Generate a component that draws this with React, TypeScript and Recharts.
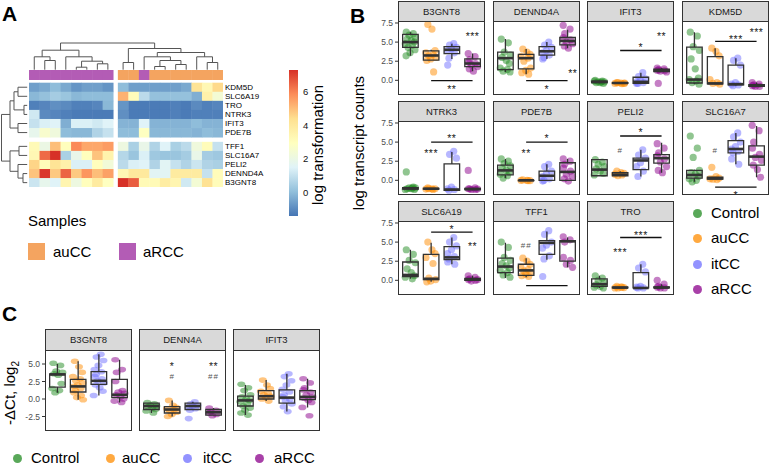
import React from "react";
import { ScatterChart, Scatter, XAxis, YAxis, BarChart, Bar } from "recharts";

const FONT = '"Liberation Sans", Arial, Helvetica, sans-serif';
const INK = "#333333";

// ---------- A: heatmap ----------
const HM_GENES = ["KDM5D", "SLC6A19", "TRO", "NTRK3", "IFIT3", "PDE7B", "TFF1", "SLC16A7", "PELI2", "DENND4A", "B3GNT8"];
const HM_SAMPLES = [
  "aRCC", "aRCC", "aRCC", "aRCC", "aRCC", "aRCC", "aRCC", "aRCC",
  "auCC", "auCC", "aRCC", "auCC", "auCC", "auCC", "auCC", "auCC", "auCC", "auCC",
];
const KDM5D_LOG = [-0.6, -0.4, 0.0, -0.4, -0.8, -0.6, -0.6, -0.8, 0.0, -0.6, -0.6, -0.6, -0.6, -0.6, -0.4, 4.2, 3.3, 4.5];
const SLC6A19_LOG = [-0.1, 0.1, 0.4, 0.2, -0.1, 0.0, 0.0, 0.0, 5.2, 3.1, 0.8, 0.1, 0.1, 0.1, 0.1, -0.3, 3.6, 2.4];
const TRO_LOG = [-1.2, -1.1, -0.9, -1.0, -1.2, -1.2, -1.1, -0.1, -0.8, -1.3, -1.3, -1.3, -1.3, -1.2, -1.3, -1.0, -1.2, -1.1];
const NTRK3_LOG = [1.2, -1.0, -1.1, -1.2, -1.3, -1.3, -1.3, -1.3, -0.9, -1.3, -1.3, -1.3, -1.3, -1.2, -1.3, -1.2, -1.2, -1.2];
const IFIT3_LOG = [1.0, 1.4, 1.5, -0.3, 1.4, 1.4, 1.2, 1.5, -0.2, -0.2, 1.5, -0.2, -0.2, -0.2, -0.2, 0.0, -0.2, -0.2];
const PDE7B_LOG = [1.8, 2.6, 2.2, 0.0, -0.1, -0.1, 0.6, 1.0, 0.0, 0.0, 2.9, -0.1, -0.1, -0.1, -0.1, -0.2, 0.0, -0.1];
const TFF1_LOG = [3.2, 2.0, 5.0, 3.0, 5.9, 5.4, 5.4, 5.6, 2.1, 0.5, 1.9, 0.6, 1.5, 0.5, 0.8, 2.2, 3.1, 1.0];
const SLC16A7_LOG = [3.3, 6.4, 7.3, 0.5, 1.9, 3.0, 4.9, 3.5, 0.7, 0.2, 1.4, 0.3, 0.2, 0.2, 0.4, 1.9, 0.4, 0.3];
const PELI2_LOG = [4.6, 3.1, 4.2, 3.6, 1.4, 1.4, 3.0, 2.3, 0.8, 1.4, 1.5, 0.6, 1.6, 1.0, 0.6, 1.1, 0.6, 0.5];
const DENND4A_LOG = [4.9, 7.2, 4.8, 6.5, 4.8, 5.7, 5.0, 5.5, 3.3, 4.0, 4.0, 1.6, 1.6, 3.9, 3.9, 3.9, 1.0, 3.1];
const B3GNT8_LOG = [1.1, 1.8, 1.5, 3.4, 2.1, 3.0, 3.9, 2.9, 7.3, 6.6, 3.2, 3.2, 3.8, 3.4, 1.2, 2.4, 4.3, 3.1];
const HM_ROWS = [KDM5D_LOG, SLC6A19_LOG, TRO_LOG, NTRK3_LOG, IFIT3_LOG, PDE7B_LOG, TFF1_LOG, SLC16A7_LOG, PELI2_LOG, DENND4A_LOG, B3GNT8_LOG];

// dendrograms: leaf index or [left, right, merge height]
type Tree = number | [Tree, Tree, number];
const COL_TREE: Tree = [
  [[0, [1, 2, 10], 13.7], [3, [[4, 5, 3.3], [6, 7, 6.7], 9.3], 13.7], 20.3],
  [[8, 9, 8], [[10, [[11, 12, 4], [13, 14, 6], 10], 13.7], [15, [16, 17, 8], 13.7], 18], 22],
  27.5,
];
const ROW_TREE: Tree = [
  [[[0, 1, 10], [2, 3, 4], 14], [4, 5, 10], 18],
  [[6, 7, 9], [8, [9, 10, 5], 10], 18],
  26.5,
];

const HM_MIN = -1.42;
const HM_MAX = 7.31;
const HM_STOPS = ["#4575B4", "#91BFDB", "#E0F3F8", "#FFFFBF", "#FEE090", "#FC8D59", "#D73027"];
const HM_TICKS = [0, 2, 4, 6];
const SAMPLE_COLORS: Record<string, string> = { auCC: "#F4A460", aRCC: "#B35CB5" };

// ---------- B / C: boxplots ----------
const GROUPS = ["Control", "auCC", "itCC", "aRCC"];
const GROUP_COLORS = ["#228B22", "#FF8C00", "#6F6FFF", "#8B008B"];

const B3GNT8_PTS = [
  [6.3, 6.1, 5.9, 5.6, 5.4, 5.2, 5.0, 4.8, 4.6, 4.3, 4.0, 3.6, 3.2],
  [7.3, 6.7, 3.9, 3.6, 3.4, 3.2, 3.0, 2.8, 2.6, 1.1],
  [4.8, 4.6, 4.3, 4.1, 3.9, 3.6, 2.9, 2.0],
  [3.5, 3.1, 2.7, 2.4, 2.2, 2.0, 1.8, 1.5, 1.2],
];
const B3GNT8_BOX = [[3.2, 4.3, 5.0, 6.0, 6.3], [2.6, 2.65, 3.25, 3.85, 4.0], [2.8, 3.5, 4.0, 4.4, 4.8], [1.2, 1.8, 2.2, 2.8, 3.5]];
const B3GNT8_LINES = [[2, 4, -0.05]];
const B3GNT8_MARKS: [number, number, string][] = [[4, 6.0, "***"], [3, -0.85, "**"]];

const DENND4A_PTS = [
  [5.4, 4.9, 3.7, 3.3, 3.0, 2.6, 2.2, 1.6, 1.4, 1.2, 1.1],
  [4.1, 3.7, 3.4, 3.1, 2.9, 2.5, 1.6, 1.3, 1.0, 0.8],
  [5.0, 4.6, 4.3, 3.9, 3.6, 3.3, 3.0, 2.8],
  [7.2, 6.7, 6.1, 5.6, 5.3, 5.0, 4.8, 4.5, 4.2],
];
const DENND4A_BOX = [[1.1, 1.4, 2.9, 3.7, 5.4], [0.8, 1.5, 2.9, 3.4, 4.1], [2.8, 3.3, 3.8, 4.4, 5.0], [4.2, 4.65, 5.15, 5.6, 6.6]];
const DENND4A_LINES = [[2, 4, -0.05]];
const DENND4A_MARKS: [number, number, string][] = [[3, -0.85, "*"], [4.25, 1.2, "**"]];

const IFIT3_PTS = [
  [0.0, -0.1, -0.2, -0.2, -0.3, -0.3, -0.4, -0.1, -0.2],
  [-0.3, -0.35, -0.4, -0.4, -0.45, -0.3, -0.35],
  [1.0, 0.5, 0.2, 0.0, -0.2, -0.3, -0.4, -0.4],
  [1.6, 1.5, 1.4, 1.3, 1.25, 1.2, 1.1, -0.4],
];
const IFIT3_BOX = [[-0.4, -0.3, -0.2, -0.1, 0.0], [-0.45, -0.4, -0.35, -0.3, -0.3], [-0.45, -0.4, -0.2, 0.4, 1.0], [1.1, 1.15, 1.3, 1.45, 1.6]];
const IFIT3_LINES = [[2, 4, 3.9]];
const IFIT3_MARKS: [number, number, string][] = [[3, 4.6, "*"], [4, 6.0, "**"]];

const KDM5D_PTS = [
  [6.3, 5.8, 4.4, 3.9, 2.8, 1.5, 0.3, 0.1, -0.1, -0.3, -0.5],
  [4.2, 3.8, 3.2, 0.1, -0.3, -0.4, -0.5],
  [2.9, 2.6, 2.0, -0.3, -0.5, -0.6, -0.7],
  [-0.3, -0.5, -0.6, -0.7, -0.8, -0.8],
];
const KDM5D_BOX = [[-0.5, -0.35, 0.1, 4.35, 6.3], [-0.5, -0.45, -0.4, 3.1, 4.2], [-0.7, -0.6, -0.5, 2.0, 2.9], [-0.8, -0.8, -0.7, -0.55, -0.3]];
const KDM5D_LINES = [[2, 4, 5.1]];
const KDM5D_MARKS: [number, number, string][] = [[3, 5.7, "***"], [4, 6.6, "***"]];

const NTRK3_PTS = [
  [1.1, -0.9, -1.0, -1.0, -1.1, -1.1, -1.2, -1.2, -1.0],
  [-1.0, -1.1, -1.1, -1.15, -1.2, -1.1],
  [3.8, 3.4, 2.9, -0.9, -1.1, -1.2, -1.3],
  [1.3, -1.0, -1.1, -1.1, -1.2, -1.2, -1.15],
];
const NTRK3_BOX = [[-1.2, -1.15, -1.05, -0.95, -0.9], [-1.2, -1.15, -1.1, -1.05, -1.0], [-1.3, -1.3, -1.2, 2.15, 3.7], [-1.2, -1.2, -1.15, -1.05, -1.0]];
const NTRK3_LINES = [[2, 4, 5.0]];
const NTRK3_MARKS: [number, number, string][] = [[3, 5.8, "**"], [2, 3.75, "***"]];

const PDE7B_PTS = [
  [2.8, 2.5, 2.2, 1.9, 1.6, 1.3, 1.1, 0.8, 0.6, 0.3],
  [0.05, 0.0, -0.05, 0.0, -0.05],
  [2.1, 1.8, 1.2, 0.9, 0.5, 0.2, 0.0, -0.1],
  [2.8, 2.5, 2.1, 1.6, 1.2, 0.8, 0.5, 0.2, -0.1],
];
const PDE7B_BOX = [[0.3, 0.7, 1.3, 2.0, 2.8], [-0.05, -0.05, 0.0, 0.0, 0.05], [-0.1, 0.0, 0.6, 1.2, 2.1], [-0.1, 0.0, 1.1, 2.3, 2.8]];
const PDE7B_LINES = [[2, 4, 5.0]];
const PDE7B_MARKS: [number, number, string][] = [[3, 5.8, "*"], [2, 3.75, "**"]];

const PELI2_PTS = [
  [2.7, 2.4, 2.1, 1.8, 1.5, 1.2, 0.9, 0.7],
  [1.2, 1.0, 0.9, 0.8, 0.7, 0.6],
  [4.0, 3.3, 2.9, 2.3, 1.8, 1.2, 0.5],
  [4.8, 4.2, 3.6, 3.2, 2.8, 2.4, 1.8, 1.3, 1.0],
];
const PELI2_BOX = [[0.6, 0.6, 1.4, 2.7, 2.8], [0.6, 0.6, 0.75, 1.0, 1.2], [0.5, 1.4, 2.6, 2.9, 4.0], [1.0, 2.25, 2.9, 3.35, 4.9]];
const PELI2_LINES = [[2, 4, 5.8]];
const PELI2_MARKS: [number, number, string][] = [[3, 6.6, "*"], [2, 3.9, "#"]];

const SLC16A7_PTS = [
  [5.8, 4.2, 3.0, 1.3, 1.0, 0.8, 0.5, 0.2, 0.0, -0.2],
  [1.7, 0.5, 0.3, 0.2, 0.1, 0.15],
  [6.2, 5.7, 5.0, 4.4, 4.1, 3.8, 3.6, 2.8, 2.1],
  [7.2, 6.5, 5.0, 4.2, 3.4, 3.0, 2.6, 2.0, 1.4, 0.4],
];
const SLC16A7_BOX = [[-0.2, 0.3, 0.7, 1.3, 1.4], [0.1, 0.15, 0.25, 0.4, 0.5], [2.1, 3.6, 4.1, 5.2, 6.2], [0.4, 2.0, 3.1, 4.5, 7.1]];
const SLC16A7_LINES = [[2, 4, -0.9]];
const SLC16A7_MARKS: [number, number, string][] = [[3, -1.65, "*"], [2, 3.9, "#"]];

const SLC6A19_PTS = [
  [4.0, 3.4, 2.6, 2.3, 1.5, 1.0, 0.6, 0.4, 0.2],
  [5.0, 4.0, 3.5, 3.0, 2.2, 0.3, 0.1, -0.1, -0.2],
  [5.6, 5.0, 4.5, 4.0, 3.5, 3.1, 2.8, 2.4, 2.1],
  [0.6, 0.4, 0.2, 0.1, 0.0, -0.1, 0.1],
];
const SLC6A19_BOX = [[0.2, 0.5, 0.7, 2.4, 4.0], [-0.2, 0.1, 0.2, 3.4, 4.9], [2.1, 2.7, 3.0, 4.4, 5.6], [-0.1, 0.0, 0.1, 0.25, 0.6]];
const SLC6A19_LINES = [[2, 4, 6.3]];
const SLC6A19_MARKS: [number, number, string][] = [[3, 7.0, "*"], [4, 4.7, "**"]];

const TFF1_PTS = [
  [5.0, 4.3, 3.0, 2.6, 2.2, 1.9, 1.6, 1.3, 1.0, 0.7, 0.4],
  [2.9, 2.5, 2.1, 1.7, 1.4, 1.2, 1.0, 0.8, 0.6, 0.5],
  [6.5, 6.0, 5.0, 4.6, 4.2, 3.2, 2.8, 0.5],
  [5.7, 5.3, 5.0, 3.0, 2.6, 2.1, 1.7],
];
const TFF1_BOX = [[0.3, 1.0, 1.8, 2.9, 4.9], [0.4, 0.65, 1.3, 2.1, 2.9], [2.7, 3.4, 4.9, 5.2, 6.4], [1.7, 2.5, 5.1, 5.2, 5.6]];
const TFF1_LINES = [[2, 4, -0.7]];
const TFF1_MARKS: [number, number, string][] = [[2, 4.65, "##"]];

const TRO_PTS = [
  [0.6, 0.3, 0.0, -0.3, -0.6, -0.8, -1.0, -0.9],
  [-0.8, -0.9, -0.95, -1.0, -0.9, -1.0],
  [2.1, 1.6, 1.1, -0.8, -0.9, -1.0, -1.0],
  [0.0, -0.5, -0.8, -0.9, -1.0, -1.0],
];
const TRO_BOX = [[-1.0, -0.8, -0.5, 0.2, 0.6], [-1.0, -1.0, -0.95, -0.9, -0.8], [-1.0, -1.0, -1.0, 1.0, 2.1], [-1.0, -1.0, -0.95, -0.85, -0.5]];
const TRO_LINES = [[2, 4, 5.6]];
const TRO_MARKS: [number, number, string][] = [[3, 6.2, "***"], [2, 3.9, "***"]];

const B_TICKS = [0, 2.5, 5, 7.5];
const B_DOMAIN = [-1.92, 7.76];

// C: qPCR
const C_B3GNT8_PTS = [
  [5.1, 4.8, 4.0, 3.8, 3.6, 3.4, 2.2, 1.5, 1.2, 0.9],
  [5.4, 4.6, 3.8, 3.2, 2.9, 2.6, 2.3, 2.0, 1.8, 1.5, 1.2, 0.9, 0.5, 0.2, -0.1],
  [6.4, 6.0, 5.5, 4.8, 4.2, 3.9, 3.5, 3.2, 2.9, 2.6, 2.3, 2.0, 1.6, 1.1, 0.5],
  [5.6, 4.2, 3.8, 2.5, 1.2, 1.0, 0.8, 0.6, 0.3, 0.0, -0.3, -0.5],
];
const C_B3GNT8_BOX = [[0.9, 1.7, 3.5, 3.6, 5.0], [-0.1, 1.0, 1.8, 2.8, 5.4], [0.5, 2.1, 2.6, 3.9, 6.4], [-0.5, 0.2, 0.6, 2.8, 5.6]];

const C_DENN4A_PTS = [
  [-0.5, -0.7, -0.9, -1.0, -1.1, -1.3, -1.5, -1.7, -2.0],
  [-0.2, -0.9, -1.2, -1.4, -1.5, -1.7, -1.9, -2.2, -2.5],
  [-0.4, -0.7, -0.9, -1.0, -1.2, -1.4, -1.6, -2.8],
  [-1.3, -1.6, -1.8, -2.0, -2.2, -2.4],
];
const C_DENN4A_BOX = [[-2.0, -1.5, -1.0, -0.6, -0.5], [-2.5, -2.0, -1.5, -1.1, -0.2], [-1.6, -1.5, -1.0, -0.6, -0.4], [-2.4, -2.3, -1.9, -1.5, -1.3]];
const C_DENN4A_MARKS: [number, number, string][] = [[2, 5.0, "*"], [2, 3.3, "#"], [4, 5.0, "**"], [4, 3.3, "##"]];

const C_IFIT3_PTS = [
  [2.1, 1.6, 1.2, 0.6, 0.3, 0.0, -0.2, -0.4, -0.7, -1.0, -1.3, -1.6, -2.0, -2.3],
  [2.7, 2.0, 1.5, 1.1, 0.8, 0.6, 0.4, 0.2, 0.0, -0.3],
  [3.6, 3.2, 2.6, 2.0, 1.4, 1.0, 0.6, 0.3, 0.0, -0.3, -0.7, -1.1, -1.8],
  [2.9, 2.3, 1.6, 1.3, 1.0, 0.6, 0.3, 0.1, -0.2, -0.5, -1.2, -2.4],
];
const C_IFIT3_BOX = [[-2.3, -1.0, -0.2, 0.4, 2.0], [-0.3, 0.0, 0.4, 1.2, 2.7], [-1.8, -0.6, 0.2, 1.3, 3.6], [-1.2, -0.1, 0.3, 1.2, 2.9]];

const C_TICKS = [-2.5, 0, 2.5, 5];
const C_DOMAIN = [-4.57, 7.0];

// jitter offsets (x units) cycled over the points of a group
const JITTER = [-0.2, 0.14, -0.06, 0.24, -0.16, 0.04, 0.19, -0.25, 0.09, -0.11, 0.22, -0.02, -0.21, 0.12, -0.14];
const BOX_HALF = 0.375;

type Panel = {
  gene: string;
  pts: number[][];
  box: number[][];
  lines: number[][];
  marks: [number, number, string][];
};

const B_PANELS: Panel[] = [
  { gene: "B3GNT8", pts: B3GNT8_PTS, box: B3GNT8_BOX, lines: B3GNT8_LINES, marks: B3GNT8_MARKS },
  { gene: "DENND4A", pts: DENND4A_PTS, box: DENND4A_BOX, lines: DENND4A_LINES, marks: DENND4A_MARKS },
  { gene: "IFIT3", pts: IFIT3_PTS, box: IFIT3_BOX, lines: IFIT3_LINES, marks: IFIT3_MARKS },
  { gene: "KDM5D", pts: KDM5D_PTS, box: KDM5D_BOX, lines: KDM5D_LINES, marks: KDM5D_MARKS },
  { gene: "NTRK3", pts: NTRK3_PTS, box: NTRK3_BOX, lines: NTRK3_LINES, marks: NTRK3_MARKS },
  { gene: "PDE7B", pts: PDE7B_PTS, box: PDE7B_BOX, lines: PDE7B_LINES, marks: PDE7B_MARKS },
  { gene: "PELI2", pts: PELI2_PTS, box: PELI2_BOX, lines: PELI2_LINES, marks: PELI2_MARKS },
  { gene: "SLC16A7", pts: SLC16A7_PTS, box: SLC16A7_BOX, lines: SLC16A7_LINES, marks: SLC16A7_MARKS },
  { gene: "SLC6A19", pts: SLC6A19_PTS, box: SLC6A19_BOX, lines: SLC6A19_LINES, marks: SLC6A19_MARKS },
  { gene: "TFF1", pts: TFF1_PTS, box: TFF1_BOX, lines: TFF1_LINES, marks: TFF1_MARKS },
  { gene: "TRO", pts: TRO_PTS, box: TRO_BOX, lines: TRO_LINES, marks: TRO_MARKS },
];

const C_PANELS: Panel[] = [
  { gene: "B3GNT8", pts: C_B3GNT8_PTS, box: C_B3GNT8_BOX, lines: [], marks: [] },
  { gene: "DENN4A", pts: C_DENN4A_PTS, box: C_DENN4A_BOX, lines: [], marks: C_DENN4A_MARKS },
  { gene: "IFIT3", pts: C_IFIT3_PTS, box: C_IFIT3_BOX, lines: [], marks: [] },
];

// ---------- layout ----------
const HM_LEFT = 28.7;
const HM_TOP = 70.3;
const HM_W = 194;
const HM_XMAX = 18.45;
const CW = HM_W / HM_XMAX;
const CH = 9.07;
const HM_YMAX = 12.92;
const HM_H = HM_YMAX * CH;

const B_COLS = [398, 493, 587, 682];
const B_ROWS = [1, 101, 201];
const C_COLS = [45, 139, 233];
const PANEL_W = 87;
const PAD = 8;
const NO_MARGIN = { top: 0, right: 0, bottom: 0, left: 0 };
const noShape = () => <g />;

const colCenter = (c: number) => (c < 8 ? c + 0.5 : c + 0.95);
const rowCenter = (r: number) => (r < 6 ? 1.9 + r : 8.42 + (r - 6));

function hexToRgb(h: string) {
  return [1, 3, 5].map((i) => parseInt(h.slice(i, i + 2), 16));
}
function heatColor(v: number) {
  const t = Math.max(0, Math.min(1, (v - HM_MIN) / (HM_MAX - HM_MIN))) * 6;
  const k = Math.min(5, Math.floor(t));
  const f = t - k;
  const a = hexToRgb(HM_STOPS[k]);
  const b = hexToRgb(HM_STOPS[k + 1]);
  const c = a.map((x, i) => Math.round(x + (b[i] - x) * f));
  return `rgb(${c[0]},${c[1]},${c[2]})`;
}

type Pt = { x: number; y: number };
// returns [leafPosition, height] polylines for every merge
function walkTree(t: Tree, pos: (i: number) => number, out: [number, number][][]): { p: number; h: number } {
  if (typeof t === "number") return { p: pos(t), h: 0.8 };
  const l = walkTree(t[0], pos, out);
  const r = walkTree(t[1], pos, out);
  out.push([[l.p, l.h], [l.p, t[2]], [r.p, t[2]], [r.p, r.h]]);
  return { p: (l.p + r.p) / 2, h: t[2] };
}

function Heatmap() {
  const cells = HM_ROWS.flatMap((vals, r) => vals.map((v, c) => ({ x: colCenter(c), y: rowCenter(r), v })));
  const annot = HM_SAMPLES.map((s, c) => ({ x: colCenter(c), y: 0.55, s }));
  const colSegs: [number, number][][] = [];
  walkTree(COL_TREE, colCenter, colSegs);
  const rowSegs: [number, number][][] = [];
  walkTree(ROW_TREE, rowCenter, rowSegs);

  return (
    <>
      <div style={{ position: "absolute", left: HM_LEFT, top: HM_TOP }}>
        <ScatterChart width={HM_W} height={HM_H} margin={NO_MARGIN}>
          <XAxis type="number" dataKey="x" domain={[0, HM_XMAX]} hide allowDataOverflow />
          <YAxis type="number" dataKey="y" domain={[0, HM_YMAX]} reversed hide allowDataOverflow />
          <Scatter
            data={cells}
            isAnimationActive={false}
            shape={(p: any) => (
              <rect x={p.cx - CW / 2} y={p.cy - CH / 2} width={CW + 0.4} height={CH + 0.4} fill={heatColor(p.payload.v)} />
            )}
          />
          <Scatter
            data={annot}
            isAnimationActive={false}
            shape={(p: any) => (
              <rect x={p.cx - CW / 2} y={p.cy - 5} width={CW + 0.4} height={10} fill={SAMPLE_COLORS[p.payload.s]} />
            )}
          />
        </ScatterChart>
      </div>
      <div style={{ position: "absolute", left: HM_LEFT, top: 42 }}>
        <ScatterChart width={HM_W} height={28.5} margin={NO_MARGIN}>
          <XAxis type="number" dataKey="x" domain={[0, HM_XMAX]} hide allowDataOverflow />
          <YAxis type="number" dataKey="y" domain={[0, 28.5]} hide allowDataOverflow />
          {colSegs.map((seg, i) => (
            <Scatter
              key={i}
              data={seg.map(([p, h]) => ({ x: p, y: h }))}
              line={{ stroke: "#555", strokeWidth: 1 }}
              lineType="joint"
              shape={noShape}
              isAnimationActive={false}
            />
          ))}
        </ScatterChart>
      </div>
      <div style={{ position: "absolute", left: 0, top: HM_TOP }}>
        <ScatterChart width={28} height={HM_H} margin={NO_MARGIN}>
          <XAxis type="number" dataKey="x" domain={[0, 28]} reversed hide allowDataOverflow />
          <YAxis type="number" dataKey="y" domain={[0, HM_YMAX]} reversed hide allowDataOverflow />
          {rowSegs.map((seg, i) => (
            <Scatter
              key={i}
              data={seg.map(([p, h]) => ({ x: h, y: p }))}
              line={{ stroke: "#555", strokeWidth: 1 }}
              lineType="joint"
              shape={noShape}
              isAnimationActive={false}
            />
          ))}
        </ScatterChart>
      </div>
      {HM_GENES.map((g, r) => (
        <div
          key={g}
          style={{ position: "absolute", left: 225, top: HM_TOP + rowCenter(r) * CH - 5, fontSize: 8, lineHeight: "10px" }}
        >
          {g}
        </div>
      ))}
      {/* colour key */}
      <div style={{ position: "absolute", left: 288, top: 70 }}>
        <BarChart width={30} height={146} data={[{ k: "key", r: [HM_MIN, HM_MAX] }]} margin={NO_MARGIN} barCategoryGap={0}>
          <defs>
            <linearGradient id="hmGrad" x1="0" y1="1" x2="0" y2="0">
              {HM_STOPS.map((c, i) => (
                <stop key={c} offset={`${(i / 6) * 100}%`} stopColor={c} />
              ))}
            </linearGradient>
          </defs>
          <XAxis dataKey="k" hide />
          <YAxis
            orientation="right"
            type="number"
            domain={[HM_MIN, HM_MAX]}
            ticks={HM_TICKS}
            width={20}
            axisLine={false}
            tickLine={false}
            tickSize={4}
            tickMargin={1}
            tick={{ fontSize: 9.5, fill: "#111" }}
            allowDataOverflow
          />
          <Bar dataKey="r" fill="url(#hmGrad)" barSize={10} isAnimationActive={false} />
        </BarChart>
      </div>
      <div
        style={{
          position: "absolute",
          left: 318 - 70,
          top: 145 - 9,
          width: 140,
          height: 18,
          lineHeight: "18px",
          fontSize: 15,
          textAlign: "center",
          transform: "rotate(-90deg)",
          whiteSpace: "nowrap",
        }}
      >
        log transformation
      </div>
      <div style={{ position: "absolute", left: 28, top: 212, fontSize: 15, lineHeight: "18px" }}>Samples</div>
      {["auCC", "aRCC"].map((s, i) => (
        <React.Fragment key={s}>
          <div
            style={{ position: "absolute", left: 28 + i * 91, top: 243, width: 17, height: 17, background: SAMPLE_COLORS[s] }}
          />
          <div style={{ position: "absolute", left: 53 + i * 90, top: 243, fontSize: 15, lineHeight: "18px" }}>{s}</div>
        </React.Fragment>
      ))}
    </>
  );
}

function boxPath(c: number, s: number[]): Pt[] {
  const [mn, q1, , q3, mx] = s;
  return [
    { x: c, y: mn }, { x: c, y: q1 }, { x: c - BOX_HALF, y: q1 }, { x: c - BOX_HALF, y: q3 },
    { x: c, y: q3 }, { x: c, y: mx }, { x: c, y: q3 }, { x: c + BOX_HALF, y: q3 },
    { x: c + BOX_HALF, y: q1 }, { x: c, y: q1 },
  ];
}

function Facet(props: {
  panel: Panel;
  left: number;
  stripTop: number;
  stripH: number;
  plotH: number;
  domain: number[];
  ticks: number[];
  axis: boolean;
  oval: boolean;
}) {
  const { panel, left, stripTop, stripH, plotH, domain, ticks, axis, oval } = props;
  const axisW = axis ? 28 : 0;
  const plotTop = stripTop + stripH - 1;
  return (
    <>
      <div
        style={{
          position: "absolute",
          left,
          top: stripTop,
          width: PANEL_W,
          height: stripH,
          boxSizing: "border-box",
          border: `1px solid ${INK}`,
          background: "#D9D9D9",
          color: "#1A1A1A",
          fontSize: 9.5,
          lineHeight: `${stripH - 2}px`,
          textAlign: "center",
        }}
      >
        {panel.gene}
      </div>
      <div style={{ position: "absolute", left: left - axisW, top: plotTop - PAD }}>
        <ScatterChart
          width={PANEL_W + axisW}
          height={plotH + 2 * PAD}
          margin={{ top: PAD, right: 0, bottom: PAD, left: 0 }}
        >
          <XAxis type="number" dataKey="x" domain={[0.4, 4.6]} hide allowDataOverflow />
          <YAxis
            type="number"
            dataKey="y"
            domain={domain}
            ticks={ticks}
            interval={0}
            hide={!axis}
            width={axisW}
            axisLine={false}
            tickSize={3}
            tickMargin={2}
            tickLine={{ stroke: INK }}
            tick={{ fontSize: 8.5, fill: "#4D4D4D" }}
            tickFormatter={(v: number) => v.toFixed(1)}
            allowDataOverflow
          />
          {panel.pts.map((vals, g) => (
            <Scatter
              key={`p${g}`}
              data={vals.map((v, i) => ({ x: g + 1 + JITTER[(i + g * 4) % JITTER.length], y: v }))}
              isAnimationActive={false}
              shape={(p: any) =>
                oval ? (
                  <ellipse cx={p.cx} cy={p.cy} rx={4} ry={2.8} fill={GROUP_COLORS[g]} fillOpacity={0.5} />
                ) : (
                  <circle cx={p.cx} cy={p.cy} r={3.6} fill={GROUP_COLORS[g]} fillOpacity={0.5} />
                )
              }
            />
          ))}
          {panel.box.map((s, g) => (
            <Scatter
              key={`b${g}`}
              data={boxPath(g + 1, s)}
              line={{ stroke: INK, strokeWidth: 1.3 }}
              lineType="joint"
              shape={noShape}
              isAnimationActive={false}
            />
          ))}
          {panel.box.map((s, g) => (
            <Scatter
              key={`m${g}`}
              data={[{ x: g + 1 - BOX_HALF, y: s[2] }, { x: g + 1 + BOX_HALF, y: s[2] }]}
              line={{ stroke: INK, strokeWidth: 2.6 }}
              lineType="joint"
              shape={noShape}
              isAnimationActive={false}
            />
          ))}
          {panel.lines.map(([a, b, y], i) => (
            <Scatter
              key={`l${i}`}
              data={[{ x: a, y }, { x: b, y }]}
              line={{ stroke: "#111", strokeWidth: 1.3 }}
              lineType="joint"
              shape={noShape}
              isAnimationActive={false}
            />
          ))}
          {panel.marks.length > 0 && (
            <Scatter
              data={panel.marks.map(([x, y, t]) => ({ x, y, t }))}
              isAnimationActive={false}
              shape={(p: any) => {
                const hash = p.payload.t.startsWith("#");
                const fs = hash ? 8 : 10.5;
                return (
                  <text
                    x={p.cx}
                    y={p.cy + fs * (hash ? 0.35 : 0.55)}
                    textAnchor="middle"
                    fontSize={fs}
                    fill={hash ? "#555" : "#222"}
                    letterSpacing={hash ? 1 : 0.5}
                  >
                    {p.payload.t}
                  </text>
                );
              }}
            />
          )}
        </ScatterChart>
        <div
          style={{
            position: "absolute",
            left: axisW,
            top: PAD,
            width: PANEL_W,
            height: plotH,
            boxSizing: "border-box",
            border: `1px solid ${INK}`,
            pointerEvents: "none",
          }}
        />
      </div>
    </>
  );
}

function Dot({ cx, cy, color }: { cx: number; cy: number; color: string }) {
  return (
    <div
      style={{
        position: "absolute",
        left: cx - 4.5,
        top: cy - 4.5,
        width: 9,
        height: 9,
        borderRadius: "50%",
        background: color,
        opacity: 0.75,
      }}
    />
  );
}

const B_LEGEND_Y = [213, 238, 264, 289];
const C_LEGEND_DOT_X = [17, 110, 187, 259];
const C_LEGEND_TEXT_X = [31, 122, 203, 274];

export default function App() {
  return (
    <div
      style={{
        position: "absolute",
        left: 0,
        top: 0,
        width: 769,
        height: 468,
        background: "#fff",
        fontFamily: FONT,
        color: "#000",
        overflow: "hidden",
      }}
    >
      <div style={{ position: "absolute", left: 2, top: 2, fontSize: 21, fontWeight: "bold", lineHeight: "24px" }}>A</div>
      <div style={{ position: "absolute", left: 350, top: 4, fontSize: 21, fontWeight: "bold", lineHeight: "24px" }}>B</div>
      <div style={{ position: "absolute", left: 2, top: 302, fontSize: 21, fontWeight: "bold", lineHeight: "24px" }}>C</div>

      <Heatmap />

      {B_PANELS.map((p, i) => (
        <Facet
          key={p.gene}
          panel={p}
          left={B_COLS[i % 4]}
          stripTop={B_ROWS[Math.floor(i / 4)]}
          stripH={21}
          plotH={74}
          domain={B_DOMAIN}
          ticks={B_TICKS}
          axis={i % 4 === 0}
          oval={false}
        />
      ))}
      <div
        style={{
          position: "absolute",
          left: 359 - 80,
          top: 143 - 9,
          width: 160,
          height: 18,
          lineHeight: "18px",
          fontSize: 15,
          textAlign: "center",
          transform: "rotate(-90deg)",
          whiteSpace: "nowrap",
        }}
      >
        log transcript counts
      </div>
      {GROUPS.map((g, i) => (
        <React.Fragment key={g}>
          <Dot cx={697} cy={B_LEGEND_Y[i]} color={GROUP_COLORS[i]} />
          <div style={{ position: "absolute", left: 711, top: B_LEGEND_Y[i] - 9, fontSize: 15, lineHeight: "18px" }}>{g}</div>
        </React.Fragment>
      ))}

      {C_PANELS.map((p, i) => (
        <Facet
          key={`c${p.gene}`}
          panel={p}
          left={C_COLS[i]}
          stripTop={329}
          stripH={22}
          plotH={81}
          domain={C_DOMAIN}
          ticks={C_TICKS}
          axis={i === 0}
          oval
        />
      ))}
      <div
        style={{
          position: "absolute",
          left: 10 - 50,
          top: 393 - 9,
          width: 100,
          height: 18,
          lineHeight: "18px",
          fontSize: 15,
          textAlign: "center",
          transform: "rotate(-90deg)",
          whiteSpace: "nowrap",
        }}
      >
        -ΔCt, log<sub style={{ fontSize: 10 }}>2</sub>
      </div>
      {GROUPS.map((g, i) => (
        <React.Fragment key={`cl${g}`}>
          <Dot cx={C_LEGEND_DOT_X[i]} cy={458} color={GROUP_COLORS[i]} />
          <div style={{ position: "absolute", left: C_LEGEND_TEXT_X[i], top: 449, fontSize: 15, lineHeight: "18px" }}>{g}</div>
        </React.Fragment>
      ))}
    </div>
  );
}
